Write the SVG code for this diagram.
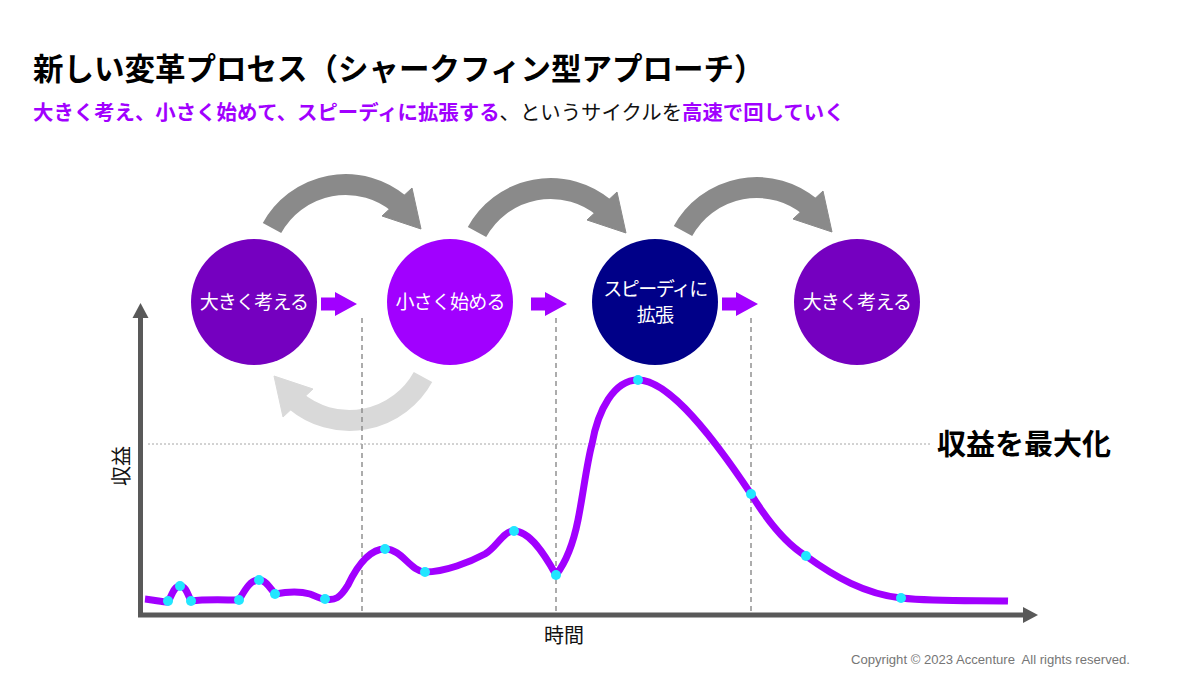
<svg xmlns="http://www.w3.org/2000/svg" width="1200" height="675" viewBox="0 0 1200 675">
<style>
.jp{font-family:"Noto Sans CJK JP",sans-serif}
.title{font-size:30.5px;font-weight:700;fill:#000}
.sub{font-size:20.4px}
.pb{fill:#A100FF;font-weight:700}
.bk{fill:#111;font-weight:400}
.ct{font-size:19px;fill:#fff;text-anchor:middle;letter-spacing:-0.8px}
.small{fill:#A100FF}
.dash{stroke:#808080;stroke-width:1.3;stroke-dasharray:5 4;fill:none}
.axis{stroke:#595959;stroke-width:5;fill:none}
.dot{fill:#22E6FF}
</style>
<defs>
<g id="bigArrow">
<path d="M 272,228 A 84 84 0 0 1 399.5,204.1" fill="none" stroke-width="21"/>
<polygon points="382,216 412,188 421,229"/>
</g>
<polygon id="smallArrow" points="0,-6.5 14,-6.5 14,-12 36,0 14,12 14,6.5 0,6.5"/>
</defs>
<rect width="1200" height="675" fill="#fff"/>

<g id="title">
<text class="jp title" x="33" y="80">新しい変革プロセス（シャークフィン型アプローチ）</text>
<text class="jp sub" x="33" y="120"><tspan class="pb">大きく考え、小さく始めて、スピーディに拡張する</tspan><tspan class="bk">、というサイクルを</tspan><tspan class="pb">高速で回していく</tspan></text>
</g>

<g id="connectors">
<g fill="#8A8A8A" stroke="#8A8A8A">
<use href="#bigArrow"/>
<use href="#bigArrow" transform="translate(205,4)"/>
<use href="#bigArrow" transform="translate(411,3)"/>
</g>
<g fill="#D9D9D9" stroke="#D9D9D9">
<use href="#bigArrow" transform="rotate(180 347.5 302.5)"/>
</g>
<g class="small">
<use href="#smallArrow" transform="translate(321,304)"/>
<use href="#smallArrow" transform="translate(531,304)"/>
<use href="#smallArrow" transform="translate(722,304)"/>
</g>
</g>

<g id="guides">
<line class="dash" x1="362" y1="318" x2="362" y2="612"/>
<line class="dash" x1="556" y1="318" x2="556" y2="612"/>
<line class="dash" x1="751" y1="318" x2="751" y2="612"/>
<line x1="148" y1="444" x2="930" y2="444" stroke="#A6A6A6" stroke-width="1" stroke-dasharray="2 2"/>
</g>

<g id="node-think1">
<circle cx="254" cy="302" r="63" fill="#7500C0"/>
<text class="jp ct" x="254" y="309">大きく考える</text>
</g>
<g id="node-start">
<circle cx="450" cy="302" r="63" fill="#A100FF"/>
<text class="jp ct" x="450" y="309">小さく始める</text>
</g>
<g id="node-scale">
<circle cx="655" cy="302" r="63" fill="#000088"/>
<text class="jp ct" x="655" y="296" style="letter-spacing:-1.5px">スピーディに</text>
<text class="jp ct" x="655" y="322">拡張</text>
</g>
<g id="node-think2">
<circle cx="857" cy="302" r="63" fill="#7500C0"/>
<text class="jp ct" x="857" y="309">大きく考える</text>
</g>

<g id="chart">
<path d="M 140.5,615 L 140.5,318" class="axis"/>
<polygon points="132.5,318 148.5,318 140.5,303" fill="#595959"/>
<path d="M 138,615 L 1023,615" class="axis"/>
<polygon points="1023,607 1023,623 1038,615" fill="#595959"/>
<path fill="none" stroke="#A100FF" stroke-width="7" stroke-linecap="butt" stroke-linejoin="round"
d="M 145,599 C 155,600 162,602 168,602 C 172,595 174,586 180,586 C 186,586 188,595 191,601 C 205,599 225,600 239,600 C 245,590 250,580 259,580 C 266,580 270,588 275,594 C 285,592 300,591 310,594 C 316,596 320,599 325,599 C 335,601 340,598 348,585 C 360,560 372,549 385,549 C 402,549 410,571 425,572 C 445,572 470,562 485,554 C 497,547 503,531 514,531 C 530,531 545,555 556,575 C 566,562 573,545 578,520 C 583,495 587,462 592,444 C 598,410 614,380 638,380 C 670,380 715,440 751,494 C 770,525 788,545 806,556 C 835,577 865,594 901,598 C 940,602 980,600 1008,601"/>
<g id="points">
<circle class="dot" cx="168" cy="601" r="5"/>
<circle class="dot" cx="180" cy="586" r="5"/>
<circle class="dot" cx="191" cy="601" r="5"/>
<circle class="dot" cx="239" cy="600" r="5"/>
<circle class="dot" cx="259" cy="580" r="5"/>
<circle class="dot" cx="275" cy="594" r="5"/>
<circle class="dot" cx="325" cy="599" r="5"/>
<circle class="dot" cx="385" cy="549" r="5"/>
<circle class="dot" cx="425" cy="572" r="5"/>
<circle class="dot" cx="514" cy="531" r="5"/>
<circle class="dot" cx="556" cy="575" r="5"/>
<circle class="dot" cx="638" cy="380" r="5"/>
<circle class="dot" cx="751" cy="494" r="5"/>
<circle class="dot" cx="806" cy="556" r="5"/>
<circle class="dot" cx="901" cy="598" r="5"/>
</g>
<text class="jp" font-size="20" fill="#111" transform="translate(129,466) rotate(-90)" text-anchor="middle">収益</text>
<text class="jp" font-size="20" fill="#111" x="564" y="643" text-anchor="middle">時間</text>
<text class="jp" font-size="29" font-weight="700" fill="#000" x="937" y="455">収益を最大化</text>
</g>

<text x="851" y="664" font-family="Liberation Sans, Noto Sans CJK JP, sans-serif" font-size="13.1" fill="#767676" xml:space="preserve">Copyright © 2023 Accenture  All rights reserved.</text>
</svg>
